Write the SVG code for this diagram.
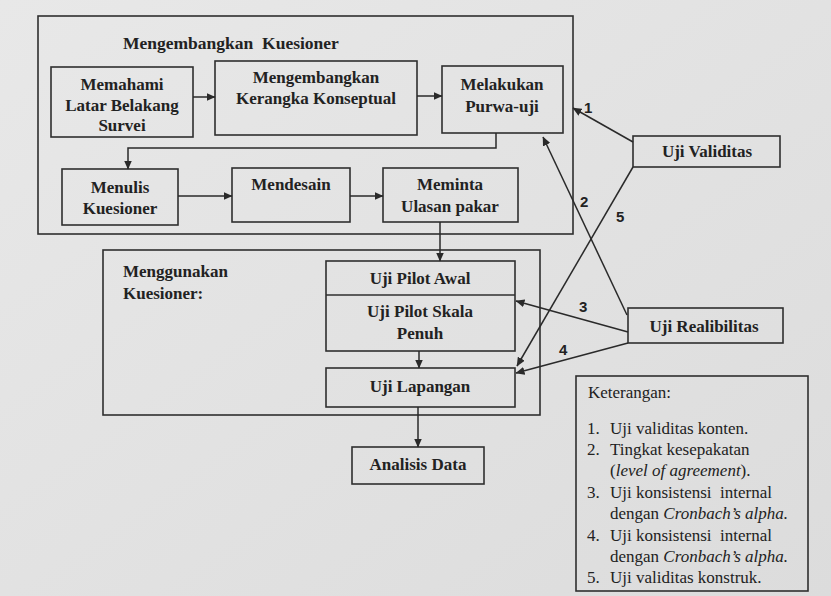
<svg xmlns="http://www.w3.org/2000/svg" width="831" height="596" viewBox="0 0 831 596">
  <defs>
    <marker id="ah" markerWidth="9" markerHeight="8" refX="8.5" refY="4" orient="auto" markerUnits="userSpaceOnUse">
      <path d="M0,0 L9,4 L0,8 Z" fill="#2a2a2a"/>
    </marker>
    <linearGradient id="paper" x1="0" y1="0" x2="1" y2="1">
      <stop offset="0" stop-color="#e8e8e8"/>
      <stop offset="1" stop-color="#dcdcdc"/>
    </linearGradient>
  </defs>
  <style>
    .box { fill: none; stroke: #2f2f2f; stroke-width: 1.6; }
    .b { font-family: "Liberation Serif", "Times New Roman", serif; font-weight: bold; font-size: 17px; fill: #222; }
    .c { text-anchor: middle; }
    .r { font-family: "Liberation Serif", "Times New Roman", serif; font-size: 17px; fill: #222; }
    .i { font-style: italic; }
    .n { font-family: "Liberation Sans", Arial, sans-serif; font-weight: bold; font-size: 15px; fill: #222; }
    .ln { fill: none; stroke: #2a2a2a; stroke-width: 1.5; marker-end: url(#ah); }
  </style>
  <rect width="831" height="596" fill="url(#paper)"/>

  <g id="group-mengembangkan">
    <rect class="box" x="38" y="16" width="535" height="218"/>
    <text class="b" x="123" y="49" style="font-size:17.5px" xml:space="preserve">Mengembangkan  Kuesioner</text>
  </g>
  <g id="node-memahami">
    <rect class="box" x="51" y="67" width="142" height="70"/>
    <text class="b c" x="122" y="90">Memahami</text>
    <text class="b c" x="122" y="111">Latar Belakang</text>
    <text class="b c" x="122" y="131">Survei</text>
  </g>
  <g id="node-kerangka">
    <rect class="box" x="215" y="61" width="202" height="74"/>
    <text class="b c" x="316" y="83">Mengembangkan</text>
    <text class="b c" x="316" y="104">Kerangka Konseptual</text>
  </g>
  <g id="node-purwa">
    <rect class="box" x="442" y="66" width="121" height="67"/>
    <text class="b c" x="502" y="90">Melakukan</text>
    <text class="b c" x="502" y="112">Purwa-uji</text>
  </g>
  <g id="node-menulis">
    <rect class="box" x="62" y="169" width="116" height="56"/>
    <text class="b c" x="120" y="193">Menulis</text>
    <text class="b c" x="120" y="214">Kuesioner</text>
  </g>
  <g id="node-mendesain">
    <rect class="box" x="232" y="168" width="118" height="54"/>
    <text class="b c" x="291" y="190">Mendesain</text>
  </g>
  <g id="node-meminta">
    <rect class="box" x="383" y="168" width="135" height="54"/>
    <text class="b c" x="450" y="190">Meminta</text>
    <text class="b c" x="450" y="212">Ulasan pakar</text>
  </g>

  <g id="group-menggunakan">
    <rect class="box" x="103" y="250" width="437" height="165"/>
    <text class="b" x="123" y="277">Menggunakan</text>
    <text class="b" x="123" y="299">Kuesioner:</text>
  </g>
  <g id="node-pilot">
    <rect class="box" x="326" y="261" width="189" height="90"/>
    <line class="box" x1="326" y1="295" x2="515" y2="295"/>
    <text class="b c" x="420" y="284">Uji Pilot Awal</text>
    <text class="b c" x="420" y="317">Uji Pilot Skala</text>
    <text class="b c" x="420" y="339">Penuh</text>
  </g>
  <g id="node-lapangan">
    <rect class="box" x="326" y="368" width="189" height="39"/>
    <text class="b c" x="420" y="392">Uji Lapangan</text>
  </g>
  <g id="node-analisis">
    <rect class="box" x="352" y="447" width="132" height="37"/>
    <text class="b c" x="418" y="470">Analisis Data</text>
  </g>
  <g id="node-validitas">
    <rect class="box" x="633" y="136" width="147" height="31"/>
    <text class="b c" x="707" y="157">Uji Validitas</text>
  </g>
  <g id="node-realibilitas">
    <rect class="box" x="628" y="308" width="155" height="35"/>
    <text class="b c" x="704" y="332">Uji Realibilitas</text>
  </g>

  <g id="connectors">
    <line class="ln" x1="193" y1="97" x2="215" y2="97"/>
    <line class="ln" x1="417" y1="96" x2="442" y2="96"/>
    <polyline class="ln" points="496,133 496,148 128,148 128,169"/>
    <line class="ln" x1="178" y1="196" x2="232" y2="196"/>
    <line class="ln" x1="350" y1="196" x2="383" y2="196"/>
    <line class="ln" x1="440" y1="222" x2="440" y2="261"/>
    <line class="ln" x1="419" y1="351" x2="419" y2="368"/>
    <line class="ln" x1="418" y1="407" x2="418" y2="447"/>
    <line class="ln" x1="633" y1="142" x2="573" y2="108"/>
    <line class="ln" x1="627" y1="315" x2="543" y2="137"/>
    <line class="ln" x1="633" y1="167" x2="517" y2="366"/>
    <line class="ln" x1="628" y1="332" x2="516" y2="301"/>
    <line class="ln" x1="628" y1="343" x2="516" y2="373"/>
    <text class="n" x="584" y="113">1</text>
    <text class="n" x="580" y="207">2</text>
    <text class="n" x="616" y="222">5</text>
    <text class="n" x="579" y="312">3</text>
    <text class="n" x="559" y="355">4</text>
  </g>

  <g id="legend">
    <rect class="box" x="576" y="376" width="232" height="215"/>
    <text class="r" x="588" y="398">Keterangan:</text>
    <text class="r" x="587" y="434">1.</text>
    <text class="r" x="610" y="434">Uji validitas konten.</text>
    <text class="r" x="587" y="455">2.</text>
    <text class="r" x="610" y="455">Tingkat kesepakatan</text>
    <text class="r" x="610" y="476">(<tspan class="i">level of agreement</tspan>).</text>
    <text class="r" x="587" y="498">3.</text>
    <text class="r" x="610" y="498" xml:space="preserve">Uji konsistensi  internal</text>
    <text class="r" x="610" y="519">dengan <tspan class="i">Cronbach’s alpha.</tspan></text>
    <text class="r" x="587" y="541">4.</text>
    <text class="r" x="610" y="541" xml:space="preserve">Uji konsistensi  internal</text>
    <text class="r" x="610" y="562">dengan <tspan class="i">Cronbach’s alpha.</tspan></text>
    <text class="r" x="587" y="583">5.</text>
    <text class="r" x="610" y="583">Uji validitas konstruk.</text>
  </g>
</svg>
